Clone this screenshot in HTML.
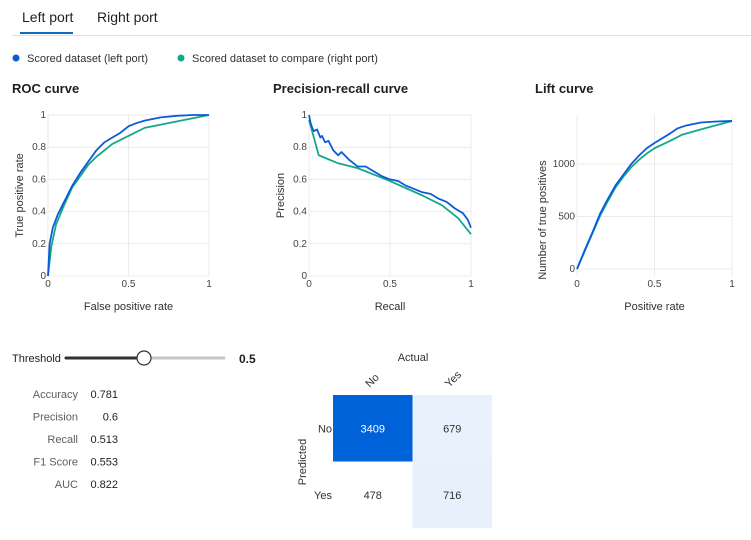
<!DOCTYPE html>
<html><head><meta charset="utf-8"><style>
body{margin:0;width:751px;height:540px;background:#fff;font-family:"Liberation Sans",sans-serif;color:#323130;overflow:hidden;position:relative}
.abs{position:absolute}
</style></head><body>
<div class="abs" style="left:22px;top:9px;font-size:14px;color:#201f1e">Left port</div>
<div class="abs" style="left:20px;top:32px;width:53px;height:2px;background:#0f6cbd"></div>
<div class="abs" style="left:97px;top:9px;font-size:14px;color:#201f1e">Right port</div>
<div class="abs" style="left:12px;top:35px;width:739px;height:1px;background:#e1dfdd"></div>
<svg class="abs" style="left:0;top:0" width="751" height="540" id="svg"></svg>
<script>
const legendLabels=["Scored dataset (left port)","Scored dataset to compare (right port)"];
const rocLeftX=[0,0.01,0.03,0.06,0.1,0.15,0.2,0.25,0.3,0.35,0.4,0.45,0.5,0.55,0.6,0.7,0.8,0.9,1];
const rocLeftY=[0,0.2,0.3,0.38,0.46,0.56,0.64,0.71,0.78,0.83,0.86,0.89,0.93,0.95,0.965,0.985,0.995,1,1];
const rocRightX=[0,0.02,0.05,0.1,0.15,0.2,0.25,0.3,0.4,0.5,0.6,1];
const rocRightY=[0,0.18,0.32,0.44,0.55,0.62,0.69,0.74,0.82,0.87,0.92,1];
const prLeftX=[0,0.01,0.02,0.03,0.05,0.07,0.08,0.1,0.12,0.15,0.18,0.2,0.25,0.3,0.35,0.4,0.45,0.5,0.55,0.6,0.65,0.7,0.75,0.8,0.85,0.9,0.95,0.98,1];
const prLeftY=[1,0.95,0.92,0.9,0.91,0.86,0.87,0.83,0.84,0.78,0.75,0.77,0.72,0.68,0.68,0.65,0.62,0.6,0.59,0.56,0.54,0.52,0.51,0.48,0.46,0.42,0.39,0.35,0.3];
const prRightX=[0,0.06,0.18,0.3,0.5,0.7,0.82,0.92,1];
const prRightY=[0.97,0.75,0.7,0.67,0.59,0.5,0.44,0.36,0.26];
const liftLeftX=[0,0.05,0.1,0.15,0.2,0.25,0.3,0.35,0.4,0.45,0.5,0.55,0.6,0.65,0.7,0.8,0.9,1];
const liftLeftY=[0,180,350,530,670,800,900,1000,1080,1150,1200,1245,1290,1340,1365,1395,1405,1410];
const liftRightX=[0,0.05,0.1,0.15,0.2,0.25,0.3,0.35,0.4,0.45,0.5,0.6,0.68,0.8,1];
const liftRightY=[0,170,340,510,650,780,880,970,1040,1100,1150,1220,1280,1330,1410];
const metricNames=["Accuracy","Precision","Recall","F1 Score","AUC"];
const metricValues=["0.781","0.6","0.513","0.553","0.822"];
const cmLabels=["No","Yes"];
const cmValues=[[3409,679],[478,716]];
const threshold=0.5;

const svg=document.getElementById('svg');
const NS="http://www.w3.org/2000/svg";
function mk(t,a,txt){const e=document.createElementNS(NS,t);for(const k in a)e.setAttribute(k,a[k]);if(txt!==undefined)e.textContent=txt;svg.appendChild(e);return e;}
const BLUE="#0b5bd8",GREEN="#13a88a";
[[16,BLUE,0],[181,GREEN,1]].forEach(([x,c,i])=>{
  const d=mk('circle',{cx:x,cy:58,r:3.5,fill:c});
  
  
  const t=mk('text',{x:x+11,y:62,'font-size':11,fill:'#323130'},legendLabels[i]);
  
  
});
function chart(o){
  const sx=v=>o.x0+(v-o.xmin)/(o.xmax-o.xmin)*(o.x1-o.x0);
  const sy=v=>o.yb+(v-o.ymin)/(o.ymax-o.ymin)*(o.yt-o.yb);
  const t=mk('text',{x:o.tx,y:93,'font-size':13,'font-weight':'bold',fill:'#201f1e'},o.title);
  
  
  o.yticks.forEach(v=>{
    const g=mk('line',{x1:o.x0,x2:o.x1,y1:sy(v),y2:sy(v),stroke:'#ebebeb'});
    
    
    const l=mk('text',{x:o.x0-2,y:sy(v)+3,'font-size':10,'text-anchor':'end',fill:'#444'},String(v));
    
    
  });
  [0,0.5,1].forEach(v=>{
    const g=mk('line',{x1:sx(v),x2:sx(v),y1:115,y2:276,stroke:'#ebebeb'});
    
    
    const l=mk('text',{x:sx(v),y:287,'font-size':10,'text-anchor':'middle',fill:'#444'},String(v));
    
    
  });
  const xt=mk('text',{x:(o.x0+o.x1)/2,y:310,'font-size':11,'text-anchor':'middle',fill:'#323130'},o.xlab);
  
  
  const yc=(o.yt+276)/2;
  const yt=mk('text',{x:o.ylx,y:yc,'font-size':11,'text-anchor':'middle',fill:'#323130',transform:`rotate(-90 ${o.ylx} ${yc})`},o.ylab);
  
  
  o.series.forEach(([xs,ys,c,n])=>{
    const p=mk('polyline',{points:xs.map((x,i)=>sx(x)+','+sy(ys[i])).join(' '),fill:'none',stroke:c,'stroke-width':1.8,'stroke-linejoin':'round'});
    
    
  });
}
chart({title:'ROC curve',tx:12,x0:48,x1:209,xmin:0,xmax:1,yb:276,yt:115,ymin:0,ymax:1,yticks:[0,0.2,0.4,0.6,0.8,1],xlab:'False positive rate',ylab:'True positive rate',ylx:23,
  series:[[rocRightX,rocRightY,GREEN,'roc-right-line'],[rocLeftX,rocLeftY,BLUE,'roc-left-line']]});
chart({title:'Precision-recall curve',tx:273,x0:309,x1:471,xmin:0,xmax:1,yb:276,yt:115,ymin:0,ymax:1,yticks:[0,0.2,0.4,0.6,0.8,1],xlab:'Recall',ylab:'Precision',ylx:284,
  series:[[prRightX,prRightY,GREEN,'pr-right-line'],[prLeftX,prLeftY,BLUE,'pr-left-line']]});
chart({title:'Lift curve',tx:535,x0:577,x1:732,xmin:0,xmax:1,yb:269,yt:164,ymin:0,ymax:1000,yticks:[0,500,1000],xlab:'Positive rate',ylab:'Number of true positives',ylx:546,
  series:[[liftRightX,liftRightY,GREEN,'lift-right-line'],[liftLeftX,liftLeftY,BLUE,'lift-left-line']]});
const s0=66,s1=224,sk=s0+threshold*(s1-s0)+(threshold>=0.5?-1:0);
let e=mk('text',{x:12,y:362,'font-size':11,fill:'#201f1e'},'Threshold');
e=mk('line',{x1:s0,x2:s1,y1:358,y2:358,stroke:'#c8c6c4','stroke-width':3,'stroke-linecap':'round'});
e=mk('line',{x1:s0,x2:sk,y1:358,y2:358,stroke:'#323130','stroke-width':3,'stroke-linecap':'round'});
e=mk('circle',{cx:sk,cy:358,r:7,fill:'#fff',stroke:'#323130','stroke-width':1.2});
e=mk('text',{x:239,y:363,'font-size':12,'font-weight':'bold',fill:'#201f1e'},String(threshold));
metricNames.forEach((n,i)=>{
  const y=398+i*22.5;
  let a=mk('text',{x:78,y:y,'font-size':11,'text-anchor':'end',fill:'#605e5c'},n);
  a=mk('text',{x:118,y:y,'font-size':11,'text-anchor':'end',fill:'#201f1e'},metricValues[i]);
});
const cx0=333,cw=79.5,cy0=395,ch=66.5;
const flat=cmValues.flat();
const maxV=Math.max(...flat),minV=Math.min(...flat);
const lerp=(a,b,t)=>Math.round(a+(b-a)*t);
function cellColor(v){
  if(v===minV)return '#ffffff';
  if(v===maxV)return '#0062d9';
  const t=Math.min(1,(v-minV)/(maxV-minV)*7);
  return `rgb(${lerp(240,225,t)},${lerp(245,236,t)},${lerp(253,250,t)})`;
}
e=mk('text',{x:413,y:361,'font-size':11,'text-anchor':'middle',fill:'#323130'},'Actual');
e=mk('text',{x:306,y:462,'font-size':11,'text-anchor':'middle',fill:'#323130',transform:'rotate(-90 306 462)'},'Predicted');
cmLabels.forEach((l,j)=>{
  const x=cx0+cw*j+cw/2,y=388;
  let a=mk('text',{x:x-3,y:y,'font-size':11,'text-anchor':'start',fill:'#323130',transform:`rotate(-45 ${x-3} ${y})`},l);
  a=mk('text',{x:cx0-1,y:cy0+ch*j+ch/2+4,'font-size':11,'text-anchor':'end',fill:'#323130'},l);
});
cmValues.forEach((row,i)=>row.forEach((v,j)=>{
  const x=cx0+cw*j,y=cy0+ch*i;
  let r=mk('rect',{x:x,y:y,width:cw,height:ch,fill:cellColor(v)});
  r=mk('text',{x:x+cw/2,y:y+ch/2+4,'font-size':11,'text-anchor':'middle',fill:v===maxV?'#fff':'#323130'},String(v));
}));
</script>
</body></html>
